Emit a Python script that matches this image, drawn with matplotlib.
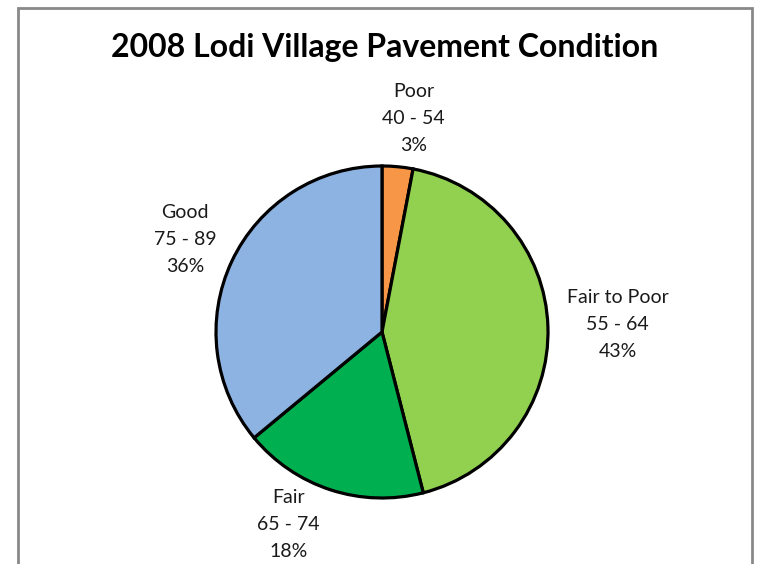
import numpy as np
import matplotlib
matplotlib.use("Agg")
import matplotlib.pyplot as plt
from matplotlib.patches import Rectangle

plt.rcParams['font.family'] = ['Lato', 'DejaVu Sans']

categories = ["Poor", "Fair to Poor", "Fair", "Good"]
ranges = ["40 - 54", "55 - 64", "65 - 74", "75 - 89"]
percents = [3, 43, 18, 36]
colors = ["#F79646", "#92D050", "#00B050", "#8DB3E2"]
# label placement (radius multiple, angle nudge in degrees)
label_dist = [1.30, 1.42, 1.29, 1.31]
label_nudge = [-3, 0, -8, 0]

fig = plt.figure(figsize=(7.6, 5.64), dpi=100)
ax = fig.add_axes([0, 0, 1, 1])

# outer chart frame
ax.add_patch(Rectangle((18, -10), 734, 566, fill=False, edgecolor="#898989", lw=2))

cx, cy, r = 382, 232, 166
wedges, _ = ax.pie(percents, colors=colors, startangle=90, counterclock=False,
                   center=(cx, cy), radius=r,
                   wedgeprops=dict(edgecolor="black", linewidth=2.3))
ax.set_aspect("equal")
ax.set_xlim(0, 760)
ax.set_ylim(0, 564)
ax.axis("off")

for w, cat, rg, p, d, nd in zip(wedges, categories, ranges, percents, label_dist, label_nudge):
    ang = np.deg2rad((w.theta1 + w.theta2) / 2 + nd)
    x = cx + d * r * np.cos(ang)
    y = cy + d * r * np.sin(ang)
    ax.text(x, y, f"{cat}\n{rg}\n{p}%", ha="center", va="center",
            fontsize=14, linespacing=1.72, color="#1a1a1a")

ax.text(385, 564 - 48, "2008 Lodi Village Pavement Condition", ha="center", va="center",
        fontsize=23, fontweight="bold", color="black")

fig.savefig("out.png", dpi=100)
